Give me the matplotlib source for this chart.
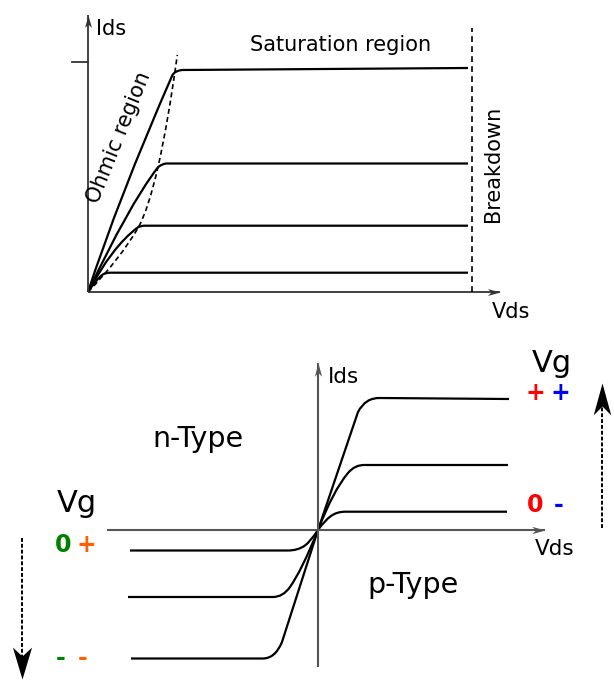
import numpy as np
import matplotlib.pyplot as plt
from matplotlib.path import Path
from matplotlib.patches import PathPatch

# --- output characteristic (Ids vs Vds), one curve per gate voltage, top to bottom
# each curve: ohmic control point, knee in, knee corner, knee out, end of saturation
out_ctrl = [(3.05, 9.4), (4.0, 8.5), (2.4, 4.5), (0.7, 1.1)]
out_knee_in = [(8.4, 21.6), (6.9, 12.35), (4.9, 6.4), (1.3, 1.6)]
out_corner = [(8.6, 22.1), (7.2, 12.75), (5.15, 6.63), (1.6, 1.93)]
out_knee_out = [(9.4, 22.2), (7.8, 12.85), (5.7, 6.63), (2.2, 1.93)]
out_end = [(38.0, 22.4), (38.0, 12.85), (38.0, 6.63), (38.0, 1.93)]

# pinch-off locus (dashed), quadratic segments
pinch_pts = [(0, 0), (3.2, 3.3), (5.0, 6.4), (6.0, 8.12), (7.0, 12.5), (8.0, 16.9), (8.93, 23.7)]
breakdown_vds = 38.4
ids_tick = 22.97

# --- n/p type curves through the origin (right three, then left three)
tr_ctrl = [(2.0, 5.9), (1.53, 3.97), (0.7, 1.0), (-0.8, -1.2), (-1.6, -4.0), (-1.8, -5.6)]
tr_knee_in = [(4.0, 11.8), (3.0, 5.7), (1.3, 1.4), (-1.3, -1.55), (-2.8, -5.7), (-3.6, -11.2)]
tr_corner = [(4.75, 13.25), (3.7, 6.55), (1.9, 1.85), (-2.0, -2.05), (-3.5, -6.7), (-4.3, -12.9)]
tr_knee_out = [(6.2, 13.2), (4.7, 6.5), (2.8, 1.83), (-3.0, -2.05), (-4.5, -6.7), (-5.6, -12.85)]
tr_end = [(19.1, 13.1), (19.0, 6.5), (18.9, 1.83), (-18.8, -2.05), (-19.0, -6.7), (-18.7, -12.85)]

RED, BLUE, GREEN, ORANGE = '#ff0000', '#0000f0', '#007f00', '#ff6000'


def knee_curve(ax, ctrl, k_in, corner, k_out, end, lw=1.6):
    verts = [(0, 0), ctrl, k_in, corner, k_out, end]
    codes = [Path.MOVETO, Path.CURVE3, Path.CURVE3, Path.CURVE3, Path.CURVE3, Path.LINETO]
    ax.add_patch(PathPatch(Path(verts, codes), fc='none', ec='k', lw=lw))


def head(ax, x, y, angle, size, color='k', ratio=0.6):
    v = np.array([[0, 0], [-1, ratio / 2], [-0.72, 0], [-1, -ratio / 2], [0, 0]])
    a = np.deg2rad(angle)
    rot = np.array([[np.cos(a), -np.sin(a)], [np.sin(a), np.cos(a)]])
    v = v @ rot.T
    m = Path(v, [Path.MOVETO, Path.LINETO, Path.LINETO, Path.LINETO, Path.CLOSEPOLY])
    ax.plot([x], [y], marker=m, ms=size, color=color, mew=0, ls='none')


fig = plt.figure(figsize=(6.14, 6.8), dpi=100)

# ---------------- top: output characteristic ----------------
ax = fig.add_axes([0, 0.5, 1, 0.5])
ax.set_xlim(-8.8, 52.6)
ax.set_ylim(-4.8, 29.2)
ax.axis('off')

axc = '#333333'
ax.plot([0, 41.2], [0, 0], color=axc, lw=1.3, solid_capstyle='butt')
ax.plot([0, 0], [0, 27.7], color=axc, lw=1.3, solid_capstyle='butt')
head(ax, 41.2, 0, 0, 18, axc, 0.55)
head(ax, 0, 27.7, 90, 18, axc, 0.55)
ax.plot([-1.6, 0], [ids_tick, ids_tick], color=axc, lw=1.3)

for i in range(len(out_ctrl)):
    knee_curve(ax, out_ctrl[i], out_knee_in[i], out_corner[i], out_knee_out[i], out_end[i])

codes = [Path.MOVETO] + [Path.CURVE3] * (len(pinch_pts) - 1)
ax.add_patch(PathPatch(Path(pinch_pts, codes), fc='none', ec='k', lw=1.2,
                       ls=(0, (3, 2))))
ax.plot([breakdown_vds, breakdown_vds], [0, 26.4], color='k', lw=1.2, ls=(0, (3.5, 2.5)))

ax.text(0.8, 25.7, 'Ids', fontsize=15, va='baseline')
ax.text(40.37, -2.63, 'Vds', fontsize=15, va='baseline')
ax.text(25.25, 24.1, 'Saturation region', fontsize=15, ha='center', va='baseline')
ax.text(40.55, 12.8, 'Breakdown', fontsize=15, rotation=90, ha='center', va='center')
ax.text(3.1, 15.45, 'Ohmic region', fontsize=15, rotation=68, ha='center', va='center',
        rotation_mode='anchor')

# ---------------- bottom: n-type / p-type ----------------
bx = fig.add_axes([0, 0, 1, 0.5])
bx.set_xlim(-31.8, 29.6)
bx.set_ylim(-15, 19)
bx.axis('off')

gc = '#555555'
bx.plot([-21.1, 22.7], [0, 0], color=gc, lw=1.5, solid_capstyle='butt')
bx.plot([0, 0], [-13.7, 16.7], color=gc, lw=1.5, solid_capstyle='butt')
head(bx, 22.7, 0, 0, 19, gc, 0.55)
head(bx, 0, 16.7, 90, 19, gc, 0.55)

for i in range(len(tr_ctrl)):
    knee_curve(bx, tr_ctrl[i], tr_knee_in[i], tr_corner[i], tr_knee_out[i], tr_end[i])

bx.text(1.03, 14.67, 'Ids', fontsize=15.5, va='baseline')
bx.text(21.7, -2.5, 'Vds', fontsize=15.5, va='baseline')
bx.text(-11.97, 8.33, 'n-Type', fontsize=20.5, ha='center', va='baseline')
bx.text(9.53, -6.33, 'p-Type', fontsize=20.5, ha='center', va='baseline')

# gate voltage labels
sym = dict(fontsize=17, fontweight='bold', ha='center', va='baseline')
bx.text(21.37, 15.83, 'Vg', fontsize=22, va='baseline')
bx.text(21.75, 13.0, '+', color=RED, **sym)
bx.text(24.25, 13.0, '+', color=BLUE, **sym)
bx.text(21.75, 1.8, '0', color=RED, **sym)
bx.text(24.1, 1.8, '-', color=BLUE, **sym)

bx.text(-26.1, 1.83, 'Vg', fontsize=22, va='baseline')
bx.text(-25.45, -2.2, '0', color=GREEN, **sym)
bx.text(-23.15, -2.2, '+', color=ORANGE, **sym)
bx.text(-25.7, -13.5, '-', color=GREEN, **sym)
bx.text(-23.5, -13.5, '-', color=ORANGE, **sym)

# dashed direction arrows
bx.plot([28.37, 28.37], [0.2, 12.5], color='k', lw=1.4, ls=(0, (2, 1)))
head(bx, 28.37, 14.7, 90, 46, 'k', 0.55)
bx.plot([-29.63, -29.63], [-0.8, -12.8], color='k', lw=1.4, ls=(0, (2, 1)))
head(bx, -29.63, -14.9, -90, 46, 'k', 0.6)

fig.savefig('out.png', dpi=100)
